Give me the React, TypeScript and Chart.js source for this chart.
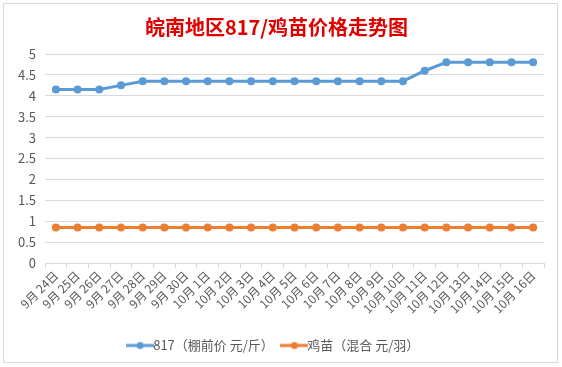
import React, { useEffect, useRef } from "react";
import { Chart, registerables } from "chart.js";

Chart.register(...registerables);

const categories = [
  "9月 24日", "9月 25日", "9月 26日", "9月 27日", "9月 28日", "9月 29日", "9月 30日",
  "10月 1日", "10月 2日", "10月 3日", "10月 4日", "10月 5日", "10月 6日", "10月 7日",
  "10月 8日", "10月 9日", "10月 10日", "10月 11日", "10月 12日", "10月 13日", "10月 14日",
  "10月 15日", "10月 16日",
];
const price817 = [
  4.15, 4.15, 4.15, 4.25, 4.35, 4.35, 4.35, 4.35, 4.35, 4.35, 4.35, 4.35, 4.35, 4.35,
  4.35, 4.35, 4.35, 4.6, 4.8, 4.8, 4.8, 4.8, 4.8,
];
const chickPrice = [
  0.85, 0.85, 0.85, 0.85, 0.85, 0.85, 0.85, 0.85, 0.85, 0.85, 0.85, 0.85, 0.85, 0.85,
  0.85, 0.85, 0.85, 0.85, 0.85, 0.85, 0.85, 0.85, 0.85,
];
const seriesNames = ["817（棚前价 元/斤）", "鸡苗（混合 元/羽）"];
const titleText = "皖南地区817/鸡苗价格走势图";

const BLUE = "#5B9BD5";
const ORANGE = "#ED7D31";
const FONT = "'Noto Sans CJK SC', 'Noto Sans', sans-serif";

function makeMarker(color: string) {
  const c = document.createElement("canvas");
  c.width = 28;
  c.height = 10;
  const ctx = c.getContext("2d")!;
  ctx.strokeStyle = color;
  ctx.lineWidth = 3;
  ctx.beginPath();
  ctx.moveTo(0, 5);
  ctx.lineTo(28, 5);
  ctx.stroke();
  ctx.fillStyle = color;
  ctx.beginPath();
  ctx.arc(14, 5, 3.5, 0, Math.PI * 2);
  ctx.fill();
  return c;
}

const frame = {
  id: "frame",
  beforeDraw(chart: any) {
    const ctx = chart.ctx;
    ctx.save();
    ctx.fillStyle = "#ffffff";
    ctx.fillRect(0, 0, chart.width, chart.height);
    ctx.strokeStyle = "#d9d9d9";
    ctx.lineWidth = 1;
    ctx.strokeRect(3.5, 3.5, chart.width - 8, chart.height - 8);
    ctx.restore();
  },
};

export default function App() {
  const ref = useRef<HTMLCanvasElement>(null);
  useEffect(() => {
    document.body.style.margin = "0";
    const markers = [makeMarker(BLUE), makeMarker(ORANGE)];
    const chart = new Chart(ref.current!, {
      type: "line",
      data: {
        labels: categories,
        datasets: [
          {
            label: seriesNames[0],
            data: price817,
            borderColor: BLUE,
            backgroundColor: BLUE,
            borderWidth: 3,
            pointRadius: 4,
            pointBackgroundColor: BLUE,
            pointBorderWidth: 0,
          },
          {
            label: seriesNames[1],
            data: chickPrice,
            borderColor: ORANGE,
            backgroundColor: ORANGE,
            borderWidth: 3,
            pointRadius: 4,
            pointBackgroundColor: ORANGE,
            pointBorderWidth: 0,
          },
        ],
      },
      options: {
        responsive: false,
        animation: false,
        layout: { padding: { left: 9, right: 18, top: 11, bottom: 5 } },
        plugins: {
          title: {
            display: true,
            text: titleText,
            color: "#E00000",
            font: { family: FONT, size: 20, weight: "bold" },
            padding: { top: 4, bottom: 15 },
          },
          legend: {
            position: "bottom",
            labels: {
              color: "#595959",
              font: { family: FONT, size: 13 },
              usePointStyle: true,
              padding: 14,
              generateLabels: (ch: any) =>
                ch.data.datasets.map((d: any, i: number) => ({
                  text: d.label,
                  fillStyle: d.borderColor,
                  strokeStyle: d.borderColor,
                  pointStyle: markers[i],
                  fontColor: "#595959",
                  datasetIndex: i,
                  hidden: false,
                })),
            },
          },
          tooltip: { enabled: false },
        },
        scales: {
          x: {
            offset: true,
            afterFit: (s: any) => {
              s.height += 9;
            },
            grid: {
              offset: true,
              drawOnChartArea: false,
              drawTicks: true,
              tickLength: 5,
              color: "#d9d9d9",
            },
            border: { color: "#d9d9d9" },
            ticks: {
              color: "#595959",
              font: { family: FONT, size: 12 },
              maxRotation: 45,
              minRotation: 45,
              autoSkip: false,
              padding: 0,
            },
          },
          y: {
            min: 0,
            max: 5,
            grid: { color: "#d9d9d9", drawTicks: false },
            border: { display: false },
            ticks: {
              stepSize: 0.5,
              color: "#595959",
              font: { family: FONT, size: 13 },
              padding: 9,
              callback: (v: any) => String(Number(v)),
            },
          },
        },
      },
      plugins: [frame],
    });
    return () => chart.destroy();
  }, []);
  return <canvas ref={ref} width={562} height={367} />;
}
